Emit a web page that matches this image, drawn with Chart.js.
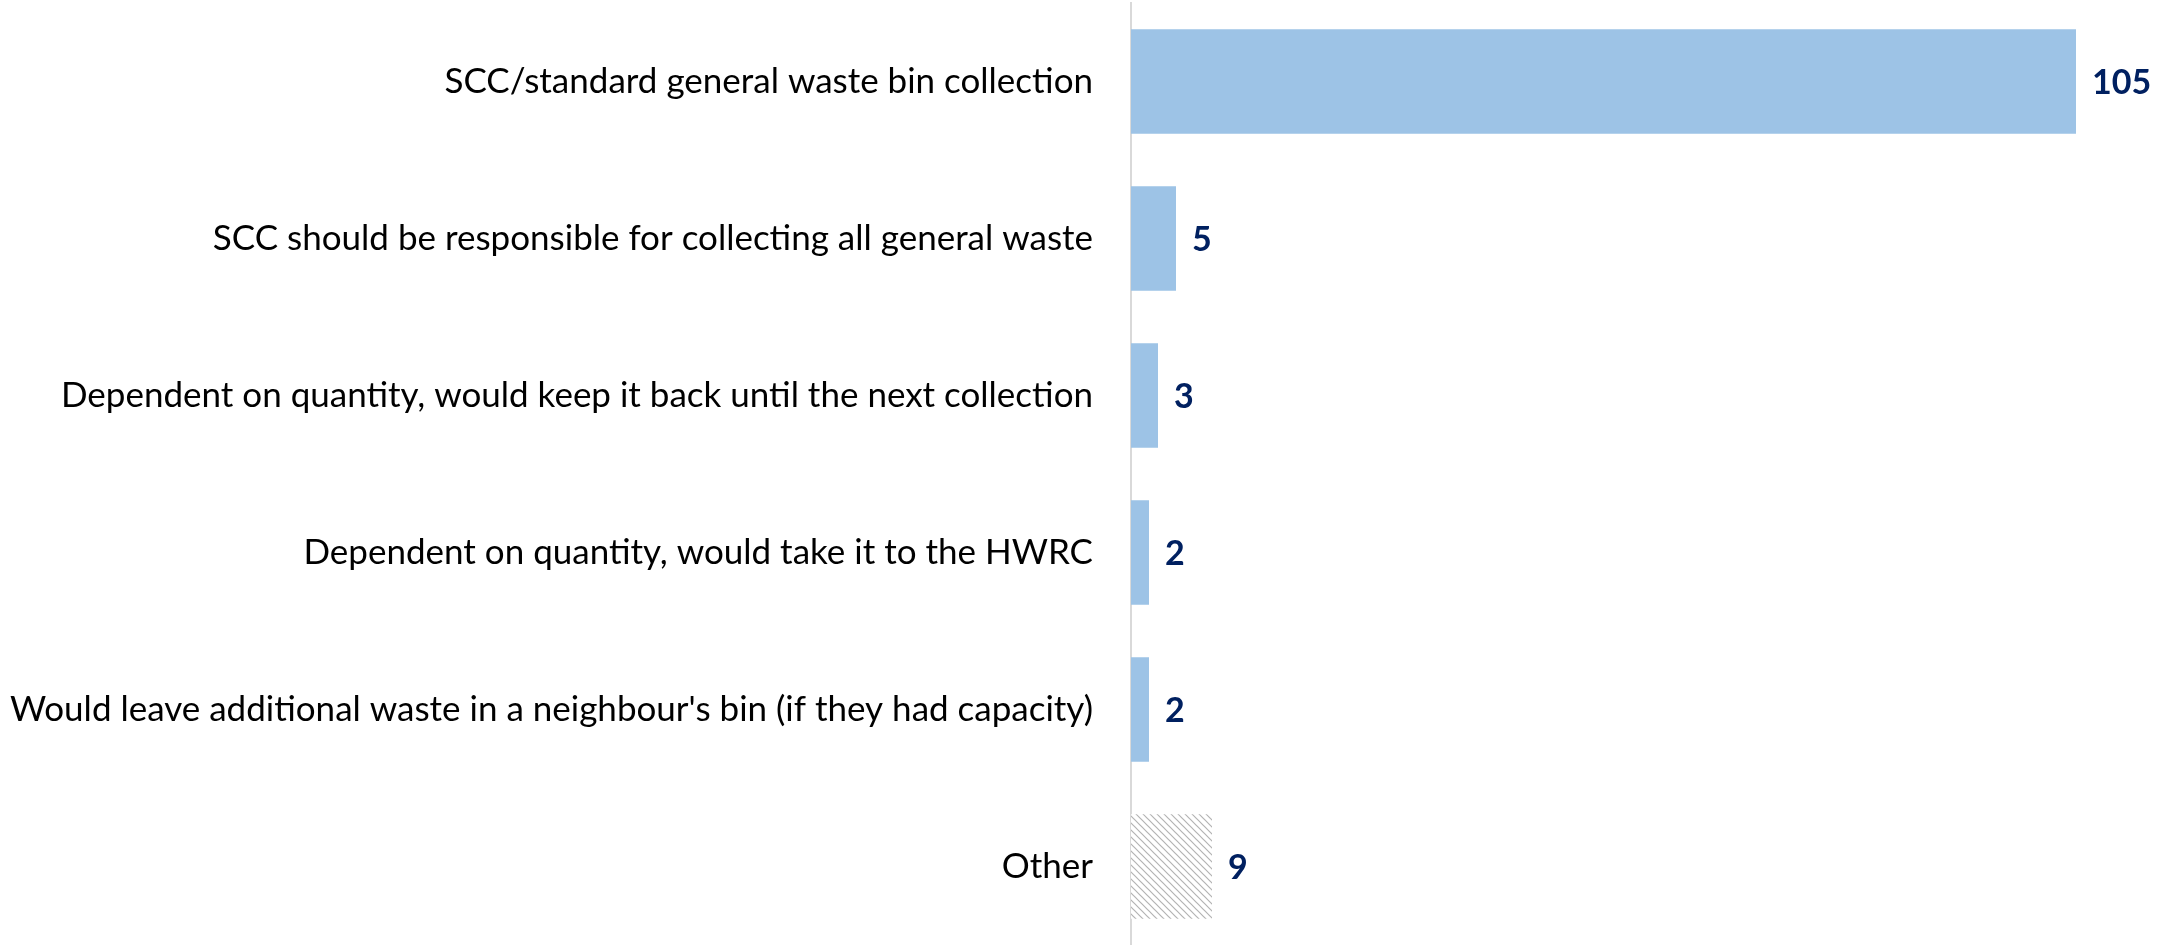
<!DOCTYPE html>
<html>
<head>
<meta charset="utf-8">
<script src="https://cdn.jsdelivr.net/npm/chart.js@4.4.1/dist/chart.umd.min.js"></script>
<style>
  html, body { margin: 0; padding: 0; background: #ffffff; }
  #wrap { width: 2170px; height: 945px; position: relative; }
</style>
</head>
<body>
<div id="wrap"><canvas id="wasteChart"></canvas></div>
<script>
const categories = [
    'SCC/standard general waste bin collection',
    'SCC should be responsible for collecting all general waste',
    'Dependent on quantity, would keep it back until the next collection',
    'Dependent on quantity, would take it to the HWRC',
    "Would leave additional waste in a neighbour's bin (if they had capacity)",
    'Other'
];
const counts = [105, 5, 3, 2, 2, 9];
const hatched = [false, false, false, false, false, true];

// diagonal hatch for the "Other" bar
function makeHatch() {
    const c = document.createElement('canvas');
    c.width = 7; c.height = 7;
    const g = c.getContext('2d');
    g.fillStyle = '#ffffff';
    g.fillRect(0, 0, 7, 7);
    g.strokeStyle = '#b3b3b3';
    g.lineWidth = 1.2;
    g.beginPath();
    g.moveTo(-1, -1); g.lineTo(8, 8);
    g.moveTo(-1, 6); g.lineTo(1, 8);
    g.moveTo(6, -1); g.lineTo(8, 1);
    g.stroke();
    return g.createPattern(c, 'repeat');
}
const hatch = makeHatch();

const valueLabels = {
    id: 'valueLabels',
    afterDatasetsDraw(chart) {
        const ctx = chart.ctx;
        const meta = chart.getDatasetMeta(0);
        ctx.save();
        ctx.font = 'bold 34px Lato';
        ctx.fillStyle = '#002060';
        ctx.textAlign = 'left';
        ctx.textBaseline = 'middle';
        meta.data.forEach((bar, i) => {
            ctx.fillText(String(counts[i]), bar.x + 16, bar.y + 2);
        });
        ctx.restore();
    }
};

new Chart(document.getElementById('wasteChart'), {
    type: 'bar',
    data: {
        labels: categories,
        datasets: [{
            data: counts,
            backgroundColor: hatched.map(h => h ? hatch : '#9dc3e6'),
            borderWidth: 0,
            categoryPercentage: 0.667,
            barPercentage: 1.0
        }]
    },
    options: {
        indexAxis: 'y',
        responsive: true,
        maintainAspectRatio: false,
        animation: false,
        layout: { padding: { top: 3, right: 4, bottom: 0, left: 0 } },
        plugins: {
            legend: { display: false },
            tooltip: { enabled: false }
        },
        scales: {
            x: {
                display: false,
                min: 0,
                max: 115
            },
            y: {
                afterFit: (s) => {
                    s.width = 1131;
                    s.paddingTop = 0;
                    s.paddingBottom = 0;
                },
                grid: { display: false, drawTicks: false },
                border: { display: true, color: '#d9d9d9', width: 2 },
                ticks: {
                    color: '#000000',
                    padding: 38,
                    font: { family: 'Lato', size: 35 }
                }
            }
        }
    },
    plugins: [valueLabels]
});
</script>
</body>
</html>
